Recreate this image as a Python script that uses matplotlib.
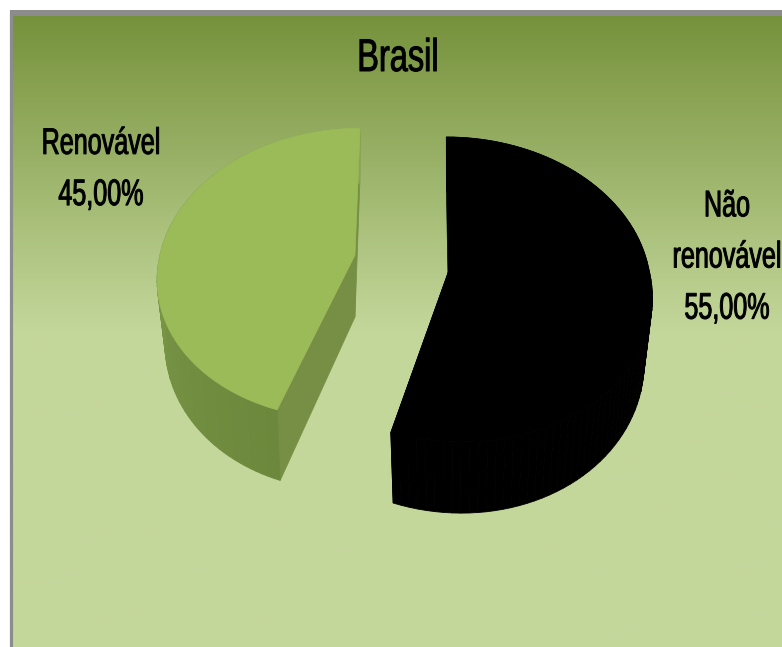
import numpy as np
import matplotlib
matplotlib.use('Agg')
from matplotlib import pyplot as plt
from matplotlib.colors import LinearSegmentedColormap
from matplotlib.patheffects import AbstractPathEffect

plt.rcParams['font.family'] = ['Liberation Sans', 'DejaVu Sans']

title = 'Brasil'
categories = ['Renovável', 'Não\nrenovável']
shares = [45.0, 55.0]

W, H = 782, 647
persp = 0.128
depth = 62
taper = 0.96

fig = plt.figure(figsize=(W / 100, H / 100), dpi=100, facecolor='white')
ax = fig.add_axes([0, 0, 1, 1])
ax.set_xlim(0, W)
ax.set_ylim(H, 0)
ax.axis('off')

# background: olive at the top fading to pale green, flat below
bg = LinearSegmentedColormap.from_list('bg', [(0, '#76923c'), (0.5, '#c4d79b'), (1, '#c4d79b')])
ax.imshow(np.linspace(0, 1, 400).reshape(-1, 1), cmap=bg, vmin=0, vmax=1, aspect='auto',
          extent=[12, W, H, 15], zorder=0)
ax.plot([11, 11], [10, H], color='#8c8c8c', lw=2.3, solid_capstyle='butt', zorder=1)
ax.plot([10, W], [13, 13], color='#8c8c8c', lw=4.3, solid_capstyle='butt', zorder=1)


class Squeeze(AbstractPathEffect):
    # the original font is a condensed one, squeeze the glyphs about the text centre
    def __init__(self, sx, xc):
        super().__init__()
        self.sx, self.xc = sx, xc

    def draw_path(self, renderer, gc, tpath, affine, rgbFace=None):
        t = affine.frozen().translate(-self.xc, 0).scale(self.sx, 1).translate(self.xc, 0)
        gc0 = renderer.new_gc()
        gc0.copy_properties(gc)
        gc0.set_foreground('black')
        gc0.set_linewidth(0.7)
        renderer.draw_path(gc0, tpath, t, rgbFace)
        gc0.restore()


def project(a, cx, cy, rx, ry, shear_back, shear_front):
    # a: radians clockwise from 12 o'clock, fake perspective with the front nearer
    X, Y = np.sin(a), -np.cos(a)
    s = 1 / (1 - persp * Y)
    shear = np.where(Y < 0, shear_back, shear_front)
    return cx + rx * X * s + shear * ry * Y * s, cy + ry * Y * s, depth * s


def slice3d(a0, a1, cx, cy, rx, ry, shear_back, shear_front, top, cut, side0, side1):
    a = np.linspace(a0, a1, 90)
    x, y, d = project(a, cx, cy, rx, ry, shear_back, shear_front)
    xb = cx + (x - cx) * taper
    # cut faces behind the top
    for i in (0, -1):
        ax.fill([cx, x[i], xb[i], cx], [cy, y[i], y[i] + d[i], cy + depth], color=cut, lw=0.5, zorder=3)
    # outer wall, shaded along the arc
    cmap = LinearSegmentedColormap.from_list('wall', [side0, side1])
    for i in range(len(a) - 1):
        ax.fill([x[i], x[i + 1], xb[i + 1], xb[i]],
                [y[i], y[i + 1], y[i + 1] + d[i + 1], y[i] + d[i]],
                color=cmap(i / (len(a) - 2)), lw=0.6, zorder=4)
    ax.fill(np.r_[cx, x], np.r_[cy, y], color=top, lw=0.5, zorder=5)


def label(x, y, s, size, sx, spacing=1.6):
    ax.text(x, y, s, fontsize=size, ha='center', va='center', linespacing=spacing, zorder=6,
            path_effects=[Squeeze(sx, x)])


# the 55% slice runs clockwise from 12 o'clock, the 45% closes the circle
split = 2 * np.pi * shares[1] / sum(shares)
slice3d(split, 2 * np.pi, 355, 255, 195, 143, -0.04, -0.06, '#9bbb59', '#778f44', '#6c883c', '#8aa653')
slice3d(0, split, 449, 270, 200, 150, 0.02, 0.075, 'black', 'black', 'black', 'black')

label(398, 59, title, 33, 0.71)
label(101, 170, f'{categories[0]}\n{shares[0]:.2f}%'.replace('.', ','), 26.6, 0.68)
label(727, 258, f'{categories[1]}\n{shares[1]:.2f}%'.replace('.', ','), 26.6, 0.68)

fig.savefig('out.png', dpi=100)
